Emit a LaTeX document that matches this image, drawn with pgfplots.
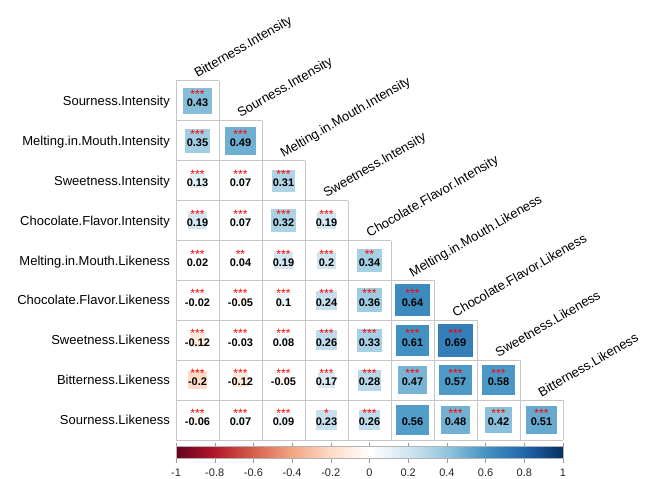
\documentclass[border=0pt]{standalone}
\usepackage{pgfplots}
\pgfplotsset{compat=1.18}
\usepackage{pgfplotstable}
\usepackage{fontspec}
\setmainfont{Liberation Sans}

\pgfdeclareplotmark{cellsq}{%
  \pgfpathrectangle{\pgfqpoint{-\pgfplotmarksize}{-0.928\pgfplotmarksize}}{\pgfqpoint{2\pgfplotmarksize}{1.856\pgfplotmarksize}}%
  \pgfusepathqfill}

\pgfplotstableread{
x y r s
1 9 0.43 ***
1 8 0.35 ***
2 8 0.49 ***
1 7 0.13 ***
2 7 0.07 ***
3 7 0.31 ***
1 6 0.19 ***
2 6 0.07 ***
3 6 0.32 ***
4 6 0.19 ***
1 5 0.02 ***
2 5 0.04 **
3 5 0.19 ***
4 5 0.2 ***
5 5 0.34 **
1 4 -0.02 ***
2 4 -0.05 ***
3 4 0.1 ***
4 4 0.24 ***
5 4 0.36 ***
6 4 0.64 ***
1 3 -0.12 ***
2 3 -0.03 ***
3 3 0.08 ***
4 3 0.26 ***
5 3 0.33 ***
6 3 0.61 ***
7 3 0.69 ***
1 2 -0.2 ***
2 2 -0.12 ***
3 2 -0.05 ***
4 2 0.17 ***
5 2 0.28 ***
6 2 0.47 ***
7 2 0.57 ***
8 2 0.58 ***
1 1 -0.06 ***
2 1 0.07 ***
3 1 0.09 ***
4 1 0.23 *
5 1 0.26 ***
6 1 0.56 {}
7 1 0.48 ***
8 1 0.42 ***
9 1 0.51 ***
}\corrdata

\begin{document}
\begin{tikzpicture}[
  rowlab/.style={anchor=base east, inner sep=0pt, font=\fontsize{13}{15}\selectfont, xshift=-6pt, yshift=-4.6pt},
  collab/.style={anchor=base west, inner sep=0pt, font=\fontsize{13}{15}\selectfont, yshift=3pt, rotate=30}
]
\useasboundingbox (0,0) rectangle (646pt,-479pt);
\begin{axis}[
  at={(176pt,-440pt)}, anchor=south west,
  scale only axis, width=387pt, height=359.1pt,
  xmin=0.5, xmax=9.5, ymin=0.5, ymax=9.5,
  hide axis, clip=false,
  gl/.style={color=gray!45, line width=0.9pt, forget plot},
  colormap={rdbu}{rgb255=(103,0,31) rgb255=(178,24,43) rgb255=(214,96,77) rgb255=(244,165,130) rgb255=(253,219,199) rgb255=(255,255,255) rgb255=(209,229,240) rgb255=(146,197,222) rgb255=(67,147,195) rgb255=(33,102,172) rgb255=(5,48,97)},
  point meta min=-1, point meta max=1,
  colorbar horizontal,
  colorbar style={
    at={(parent axis.south west)}, anchor=north west, yshift=2pt,
    scale only axis, width=387pt, height=12pt,
    xtick={-1,-0.8,-0.6,-0.4,-0.2,0,0.2,0.4,0.6,0.8,1},
    xticklabels={-1,-0.8,-0.6,-0.4,-0.2,0,0.2,0.4,0.6,0.8,1},
    xtick align=outside, major tick length=4pt,
    xtick style={gray!80, thin},
    axis line style={gray!60},
    xticklabel style={font=\fontsize{11}{13}\selectfont, text=black!85, yshift=-3pt}
  },
]
% grid
\addplot[gl] coordinates {(0.5,0.5) (0.5,9.5)};
\addplot[gl] coordinates {(1.5,0.5) (1.5,9.5)};
\addplot[gl] coordinates {(2.5,0.5) (2.5,8.5)};
\addplot[gl] coordinates {(3.5,0.5) (3.5,7.5)};
\addplot[gl] coordinates {(4.5,0.5) (4.5,6.5)};
\addplot[gl] coordinates {(5.5,0.5) (5.5,5.5)};
\addplot[gl] coordinates {(6.5,0.5) (6.5,4.5)};
\addplot[gl] coordinates {(7.5,0.5) (7.5,3.5)};
\addplot[gl] coordinates {(8.5,0.5) (8.5,2.5)};
\addplot[gl] coordinates {(9.5,0.5) (9.5,1.5)};
\addplot[gl] coordinates {(0.5,9.5) (1.5,9.5)};
\addplot[gl] coordinates {(0.5,8.5) (2.5,8.5)};
\addplot[gl] coordinates {(0.5,7.5) (3.5,7.5)};
\addplot[gl] coordinates {(0.5,6.5) (4.5,6.5)};
\addplot[gl] coordinates {(0.5,5.5) (5.5,5.5)};
\addplot[gl] coordinates {(0.5,4.5) (6.5,4.5)};
\addplot[gl] coordinates {(0.5,3.5) (7.5,3.5)};
\addplot[gl] coordinates {(0.5,2.5) (8.5,2.5)};
\addplot[gl] coordinates {(0.5,1.5) (9.5,1.5)};
\addplot[gl] coordinates {(0.5,0.5) (9.5,0.5)};
% squares
\addplot[scatter, only marks, mark=cellsq, scatter src=explicit,
  scatter/use mapped color={draw=none, fill=mapped color},
  visualization depends on={21.5*sqrt(abs(\thisrow{r})) \as \msz},
  scatter/@pre marker code/.append style={/tikz/mark size=\msz}]
  table[x=x, y=y, meta=r] {\corrdata};
% numbers
\addplot[only marks, mark=none, point meta=explicit symbolic, nodes near coords,
  every node near coord/.append style={font=\fontsize{11}{13}\selectfont\bfseries, text=black, anchor=center, yshift=-2pt, inner sep=0pt}]
  table[x=x, y=y, meta=r] {\corrdata};
% stars
\addplot[only marks, mark=none, point meta=explicit symbolic, nodes near coords,
  every node near coord/.append style={font=\fontsize{12}{13}\selectfont, text=red, anchor=center, yshift=6.5pt, inner sep=0pt}]
  table[x=x, y=y, meta=s] {\corrdata};
% row labels
\node[rowlab] at (axis cs:0.5,9) {Sourness.Intensity};
\node[rowlab] at (axis cs:0.5,8) {Melting.in.Mouth.Intensity};
\node[rowlab] at (axis cs:0.5,7) {Sweetness.Intensity};
\node[rowlab] at (axis cs:0.5,6) {Chocolate.Flavor.Intensity};
\node[rowlab] at (axis cs:0.5,5) {Melting.in.Mouth.Likeness};
\node[rowlab] at (axis cs:0.5,4) {Chocolate.Flavor.Likeness};
\node[rowlab] at (axis cs:0.5,3) {Sweetness.Likeness};
\node[rowlab] at (axis cs:0.5,2) {Bitterness.Likeness};
\node[rowlab] at (axis cs:0.5,1) {Sourness.Likeness};
% column labels
\node[collab] at (axis cs:1,9.5) {Bitterness.Intensity};
\node[collab] at (axis cs:2,8.5) {Sourness.Intensity};
\node[collab] at (axis cs:3,7.5) {Melting.in.Mouth.Intensity};
\node[collab] at (axis cs:4,6.5) {Sweetness.Intensity};
\node[collab] at (axis cs:5,5.5) {Chocolate.Flavor.Intensity};
\node[collab] at (axis cs:6,4.5) {Melting.in.Mouth.Likeness};
\node[collab] at (axis cs:7,3.5) {Chocolate.Flavor.Likeness};
\node[collab] at (axis cs:8,2.5) {Sweetness.Likeness};
\node[collab] at (axis cs:9,1.5) {Bitterness.Likeness};
\end{axis}
\end{tikzpicture}
\end{document}
